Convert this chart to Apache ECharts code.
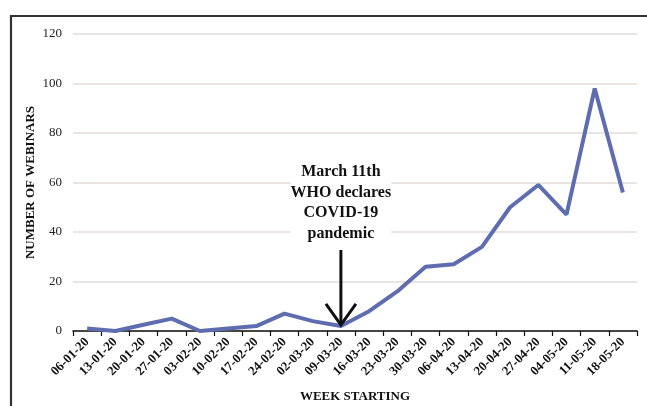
<!DOCTYPE html>
<html><head><meta charset="utf-8">
<script src="https://cdn.jsdelivr.net/npm/echarts@6/dist/echarts.min.js"></script>
<style>html,body{margin:0;padding:0;background:#fff}#c{width:647px;height:406px}</style>
</head><body><div id="c"></div>
<script>
const categories = ['06-01-20','13-01-20','20-01-20','27-01-20','03-02-20','10-02-20','17-02-20','24-02-20','02-03-20','09-03-20','16-03-20','23-03-20','30-03-20','06-04-20','13-04-20','20-04-20','27-04-20','04-05-20','11-05-20','18-05-20'];
const webinars = [1,0,2.5,5,0,1,2,7,4,2,8,16,26,27,34,50,59,47,98,56];
const annotationLines = ['March 11th','WHO declares','COVID-19','pandemic'];
const annotationCategory = '09-03-20';

const serif = '"Liberation Serif","DejaVu Serif",serif';
const chart = echarts.init(document.getElementById('c'));
chart.setOption({
  animation:false,
  grid:{left:73,right:10,top:34,bottom:75,containLabel:false,outerBoundsMode:'none'},
  xAxis:{type:'category',data:categories,boundaryGap:true,
    name:'WEEK STARTING',nameLocation:'middle',nameGap:59,nameMoveOverlap:false,
    nameTextStyle:{fontFamily:serif,fontWeight:'bold',fontSize:13,color:'#111'},
    axisLine:{lineStyle:{color:'#111',width:1.5}},
    axisTick:{show:true,length:5,lineStyle:{color:'#111',width:1.2}},
    axisLabel:{rotate:45,interval:0,margin:9,fontFamily:serif,fontWeight:'bold',fontSize:13,color:'#111'}},
  yAxis:{type:'value',min:0,max:120,interval:20,
    name:'NUMBER OF WEBINARS',nameLocation:'middle',nameGap:36,nameMoveOverlap:false,
    nameTextStyle:{fontFamily:serif,fontWeight:'bold',fontSize:13,color:'#111'},
    axisLine:{show:false},axisTick:{show:false},
    axisLabel:{fontFamily:serif,fontSize:13,color:'#222',margin:11},
    splitLine:{lineStyle:{color:'#e2ddd9',width:1.5}}},
  series:[{type:'line',data:webinars,symbol:'none',
    lineStyle:{color:'#5e6cb0',width:4},z:3}]
});
function drawExtras(){
  const tip = chart.convertToPixel({gridIndex:0},[annotationCategory,2.5]);
  const x = tip[0], ty = tip[1];
  chart.setOption({graphic:[
    {type:'rect',shape:{x:11,y:16,width:700,height:500},style:{fill:'none',stroke:'#333',lineWidth:2.2},silent:true},
    {type:'text',x:x,y:162,style:{text:annotationLines.join('\n'),align:'center',verticalAlign:'top',
      font:'bold 16px '+serif,lineHeight:20.5,fill:'#111',backgroundColor:'#fff'},z:10},
    {type:'polyline',shape:{points:[[x,250],[x,ty]]},style:{stroke:'#111',lineWidth:3},z:10},
    {type:'polyline',shape:{points:[[x-15,ty-21],[x,ty],[x+15,ty-21]]},style:{stroke:'#111',lineWidth:3,fill:'none'},z:10}
  ]});
}
drawExtras();
</script></body></html>
